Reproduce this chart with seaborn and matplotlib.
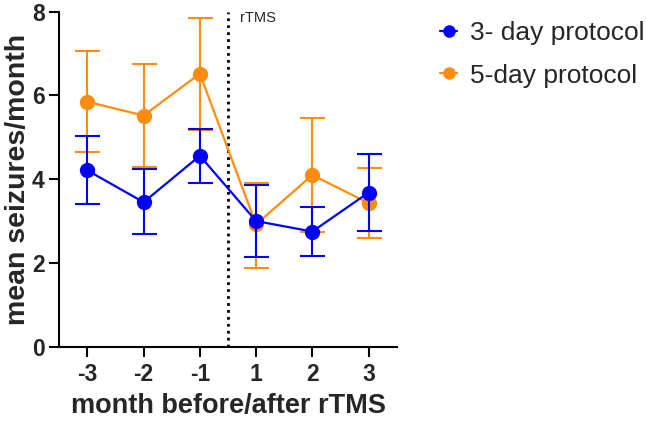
import matplotlib
matplotlib.use("Agg")
import matplotlib.pyplot as plt
import seaborn as sns
import numpy as np
import pandas as pd

# data
months = ['-3', '-2', '-1', '1', '2', '3']

mean_3day = [4.21, 3.45, 4.56, 3.00, 2.75, 3.68]
upper_3day = [5.03, 4.25, 5.19, 3.86, 3.34, 4.60]
lower_3day = [3.40, 2.70, 3.91, 2.14, 2.17, 2.76]

mean_5day = [5.85, 5.52, 6.52, 2.92, 4.10, 3.43]
upper_5day = [7.05, 6.75, 7.85, 3.92, 5.45, 4.26]
lower_5day = [4.66, 4.29, 5.18, 1.89, 2.75, 2.60]

blue = '#0000ff'
orange = '#ff8c0f'

sns.set_theme(style='ticks')
plt.rcParams['font.family'] = ['Liberation Sans', 'DejaVu Sans']

pos = np.arange(len(months))
df = pd.DataFrame({
    'pos': np.concatenate([pos, pos]),
    'mean': mean_5day + mean_3day,
    'protocol': ['5-day protocol'] * 6 + ['3- day protocol'] * 6,
})

fig = plt.figure(figsize=(6.46, 4.21), dpi=100)
ax = fig.add_axes([0.0918, 0.1765, 0.5222, 0.7957])

# dotted line marking rTMS
ax.axvline(2.5, color='black', linestyle=(0, (1, 1.5)), linewidth=2, zorder=1)
ax.text(2.72, 8.02, 'rTMS', fontsize=10.5, va='top', ha='left')

for name, m, up, lo, col, z in [('5-day protocol', mean_5day, upper_5day, lower_5day, orange, 2),
                                 ('3- day protocol', mean_3day, upper_3day, lower_3day, blue, 4)]:
    m = np.array(m)
    yerr = [m - np.array(lo), np.array(up) - m]
    ax.errorbar(pos, m, yerr=yerr, fmt='none', ecolor=col, elinewidth=1.5,
                capsize=9, capthick=1.5, zorder=z)

sns.lineplot(data=df, x='pos', y='mean', hue='protocol',
             hue_order=['5-day protocol', '3- day protocol'],
             palette={'5-day protocol': orange, '3- day protocol': blue},
             marker='o', markersize=11, markeredgewidth=0, linewidth=1.6,
             ax=ax, legend=False, zorder=3)
# bring blue line above orange
for ln in ax.lines:
    if ln.get_color() == blue:
        ln.set_zorder(5)

ax.set_xlim(-0.5, 5.5)
ax.set_ylim(0, 8)
ax.set_xticks(pos)
ax.set_xticklabels(months)
ax.set_yticks([0, 2, 4, 6, 8])
ax.tick_params(axis='both', labelsize=16.5, width=1.5, length=7, color='black')
ax.tick_params(axis='x', pad=5)
for lab in ax.get_xticklabels() + ax.get_yticklabels():
    lab.set_fontweight('bold')

ax.set_xlabel('month before/after rTMS', fontsize=19.5, fontweight='bold', labelpad=5)
ax.set_ylabel('mean seizures/month', fontsize=20.5, fontweight='bold', labelpad=1)

sns.despine(ax=ax)
for s in ['left', 'bottom']:
    ax.spines[s].set_linewidth(1.5)
    ax.spines[s].set_color('black')

handles = [
    plt.Line2D([], [], color=blue, marker='o', markersize=8, linewidth=1.6),
    plt.Line2D([], [], color=orange, marker='o', markersize=8, linewidth=1.6),
]
fig.legend(handles, ['3- day protocol', '5-day protocol'],
           loc='upper left', bbox_to_anchor=(0.681, 0.95), frameon=False,
           fontsize=19, handlelength=0.65, handletextpad=0.5, labelspacing=0.7,
           borderpad=0, borderaxespad=0)

fig.savefig('out.png', dpi=100)
